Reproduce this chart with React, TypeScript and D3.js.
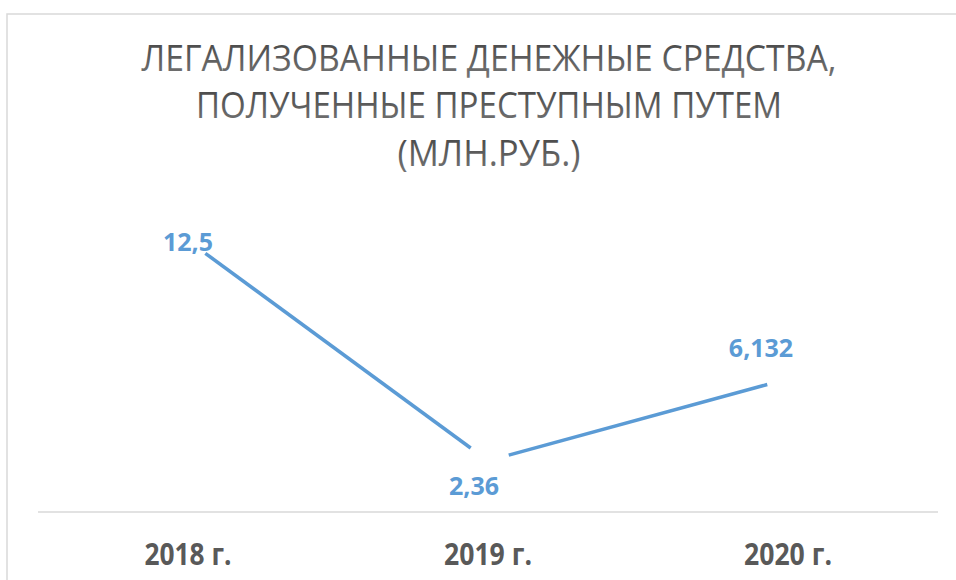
import React from "react";
import * as d3 from "d3";

const categories = ["2018 г.", "2019 г.", "2020 г."];
const values = [12.5, 2.36, 6.132];
const valueLabels = ["12,5", "2,36", "6,132"];
const titleLines = [
  "ЛЕГАЛИЗОВАННЫЕ ДЕНЕЖНЫЕ СРЕДСТВА,",
  "ПОЛУЧЕННЫЕ ПРЕСТУПНЫМ ПУТЕМ",
  "(МЛН.РУБ.)",
];

const W = 956;
const H = 580;
const BLUE = "#5B9BD5";
const GREY = "#595959";

// label offsets relative to each point (as placed in the reference)
const labelDx = [0, -14, -27];
const labelDy = [10, 34, -22];
const titleBaselines = [71, 118, 166];
const titleWidths = [695, 586, 183];
const catWidths = [87, 88, 88];

export default function App() {
  const x = d3.scalePoint<string>().domain(categories).range([38, 938]).padding(0.5);
  const y = d3.scaleLinear().domain([0, 14]).range([512, 208]);
  const pts = values.map((v, i) => [x(categories[i]) as number, y(v)] as [number, number]);
  const gap = 21.5;
  const segs: [number, number, number, number][] = [];
  for (let i = 0; i < pts.length - 1; i++) {
    const [x0, y0] = pts[i];
    const [x1, y1] = pts[i + 1];
    const len = Math.hypot(x1 - x0, y1 - y0);
    const ux = (x1 - x0) / len;
    const uy = (y1 - y0) / len;
    segs.push([x0 + ux * gap, y0 + uy * gap, x1 - ux * gap, y1 - uy * gap]);
  }
  const line = d3.line();
  const cx = 489;
  return (
    <svg
      width={W}
      height={H}
      style={{ position: "absolute", left: 0, top: 0, background: "#fff" }}
    >
      <defs>
        <linearGradient id="tg" x1="0" y1="0" x2="0" y2="1">
          <stop offset="0" stopColor="#3f3f3f" />
          <stop offset="1" stopColor="#7a7a7a" />
        </linearGradient>
      </defs>
      <rect x={0} y={0} width={W} height={H} fill="#fff" />
      <rect x={7} y={14} width={1200} height={1200} fill="none" stroke="#d9d9d9" strokeWidth={1.5} />
      {titleLines.map((t, i) => (
        <text
          key={i}
          x={cx}
          y={titleBaselines[i]}
          textAnchor="middle"
          fontFamily="'Open Sans', sans-serif"
          fontSize={36}
          fill="url(#tg)"
          textLength={titleWidths[i]}
          lengthAdjust="spacingAndGlyphs"
        >
          {t}
        </text>
      ))}
      <line x1={38} x2={938} y1={y(0)} y2={y(0)} stroke="#d9d9d9" strokeWidth={1.5} />
      {segs.map((s, i) => (
        <path
          key={i}
          d={line([[s[0], s[1]], [s[2], s[3]]]) as string}
          stroke={BLUE}
          strokeWidth={3.5}
          fill="none"
        />
      ))}
      {pts.map((p, i) => (
        <text
          key={i}
          x={p[0] + labelDx[i]}
          y={p[1] + labelDy[i]}
          textAnchor="middle"
          fontFamily="'Open Sans', sans-serif"
          fontWeight="bold"
          fontSize={25}
          fill={BLUE}
        >
          {valueLabels[i]}
        </text>
      ))}
      {categories.map((c, i) => (
        <text
          key={c}
          x={x(c) as number}
          y={565}
          textAnchor="middle"
          fontFamily="'Open Sans', sans-serif"
          fontWeight="bold"
          fontSize={31}
          fill={GREY}
          textLength={catWidths[i]}
          lengthAdjust="spacingAndGlyphs"
        >
          {c}
        </text>
      ))}
    </svg>
  );
}
